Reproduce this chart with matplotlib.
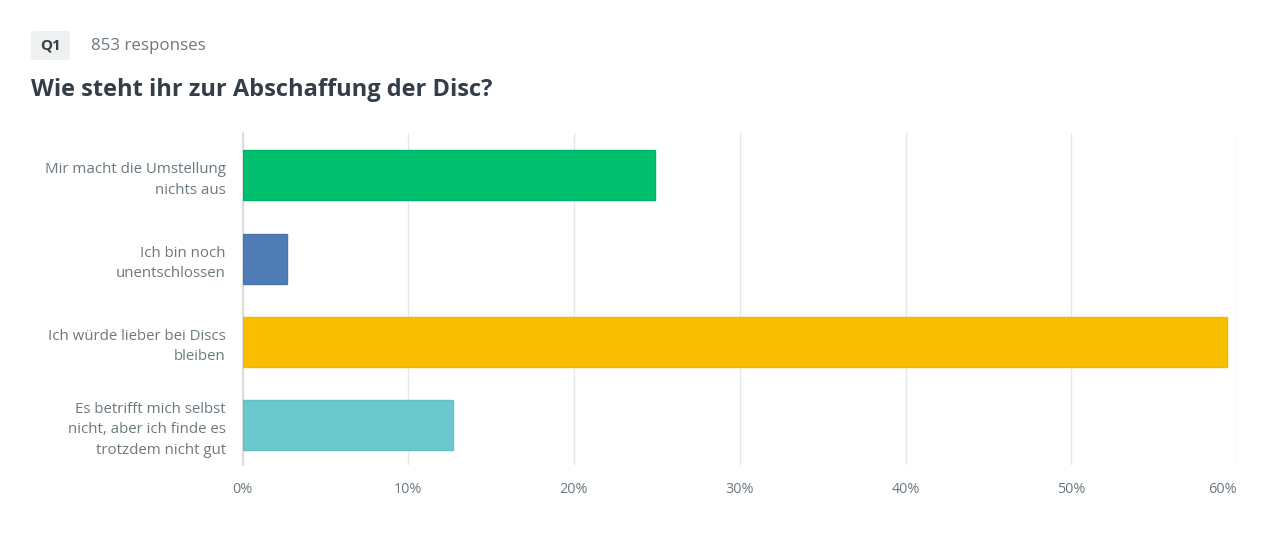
import matplotlib
matplotlib.use("Agg")
import matplotlib.pyplot as plt
from matplotlib.patches import FancyBboxPatch

categories = [
    "Mir macht die Umstellung\nnichts aus",
    "Ich bin noch\nunentschlossen",
    "Ich würde lieber bei Discs\nbleiben",
    "Es betrifft mich selbst\nnicht, aber ich finde es\ntrotzdem nicht gut",
]
values = [24.9, 2.7, 59.4, 12.7]
colors = ["#00BF6F", "#507CB6", "#F9BE00", "#6BC8CD"]
edge_colors = ["#00B467", "#4A74AC", "#F2B800", "#63C0C5"]
xticks = [0, 10, 20, 30, 40, 50, 60]
xtick_labels = ["0%", "10%", "20%", "30%", "40%", "50%", "60%"]
title = "Wie steht ihr zur Abschaffung der Disc?"
question_tag = "Q1"
responses = "853 responses"

plt.rcParams['font.family'] = ['Open Sans', 'DejaVu Sans']

W, H = 1280, 554
fig = plt.figure(figsize=(W / 100, H / 100), dpi=100)
fig.patch.set_facecolor("white")

left, right, top, bottom = 242.5, 1237, 133, 465
ax = fig.add_axes([left / W, 1 - bottom / H, (right - left) / W, (bottom - top) / H])

ypos = list(range(len(categories)))
ax.barh(ypos, values, height=0.6, color=colors, edgecolor=edge_colors, linewidth=1, zorder=3)
ax.set_xlim(0, 60)
ax.set_ylim(3.48, -0.51)
ax.set_xticks(xticks)
ax.set_xticklabels(xtick_labels, color="#6B787F", fontsize=10.4)
ax.get_xticklabels()[-1].set_horizontalalignment("right")
ax.set_yticks(ypos)
ax.set_yticklabels(categories, color="#6B787F", fontsize=10.8, linespacing=1.5, ha="right")
ax.tick_params(axis="y", length=0, pad=12)
ax.tick_params(axis="x", length=0, pad=12)
for s in ["top", "right", "bottom"]:
    ax.spines[s].set_visible(False)
ax.spines["left"].set_color("#D5D8DA")
ax.spines["left"].set_linewidth(1.2)
ax.grid(axis="x", color="#E6E7E8", linewidth=1.0, zorder=0)
ax.set_axisbelow(True)

# Header
box = FancyBboxPatch((31 / W, 1 - 60 / H), 39 / W, 29 / H,
                     boxstyle="round,pad=0,rounding_size=0.003",
                     transform=fig.transFigure, facecolor="#EFF0F0", edgecolor="none")
fig.patches.append(box)
fig.text(50.5 / W, 1 - 45.5 / H, question_tag, fontsize=10.8, fontweight="bold",
         color="#333E48", ha="center", va="center")
fig.text(91 / W, 1 - 45.5 / H, responses, fontsize=12.2, color="#6B787F",
         ha="left", va="center")
fig.text(31 / W, 1 - 89.5 / H, title, fontsize=17.0, fontweight="bold",
         color="#333E48", ha="left", va="center")

fig.savefig("out.png", dpi=100, facecolor="white")
